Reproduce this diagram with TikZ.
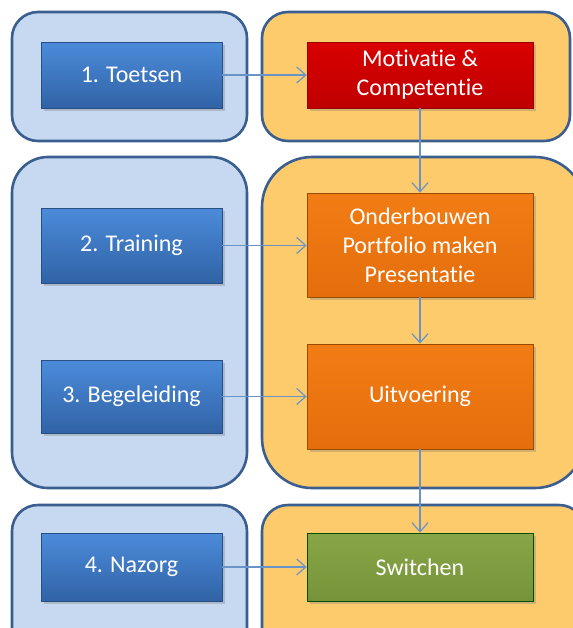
\documentclass[tikz,border=0pt]{standalone}
\usepackage{fontspec}
\setmainfont{Carlito}[Ligatures=NoCommon]
\usetikzlibrary{arrows.meta,shadows}
\definecolor{Rand}{HTML}{3A5E8F}
\definecolor{LichtBlauw}{HTML}{C6D9F0}
\definecolor{LichtOranje}{HTML}{FDCB6B}
\definecolor{Lijn}{HTML}{6A93C8}
\definecolor{BlauwBoven}{HTML}{4C8BDA}
\definecolor{BlauwOnder}{HTML}{3063A6}
\tikzset{
  panelL/.style={draw=Rand, fill=LichtBlauw, line width=1.3pt},
  panelR/.style={draw=Rand, fill=LichtOranje, line width=1.3pt},
  blok/.style={rectangle, text=white, align=center,
    font=\fontsize{12}{14.5}\selectfont, line width=0.4pt,
    drop shadow={opacity=0.35, shadow xshift=1.5pt, shadow yshift=-1.5pt}},
  stap/.style={blok, draw=BlauwOnder!80!black, top color=BlauwBoven, bottom color=BlauwOnder,
    minimum width=90.5pt},
  fase/.style={blok, minimum width=113pt},
  pijl/.style={draw=Lijn, line width=0.6pt, -{Straight Barb[length=4.5pt,width=8pt]}},
}
\begin{document}
\begin{tikzpicture}[x=0.5pt,y=-0.5pt]
\useasboundingbox (0,0) rectangle (573,628);
\clip (0,0) rectangle (573,628);

\draw[panelL, rounded corners=13pt] (12,12) rectangle (247,141);
\draw[panelR, rounded corners=13pt] (262,12) rectangle (570,141);
\draw[panelL, rounded corners=18pt] (12,157) rectangle (247,488);
\draw[panelR, rounded corners=25pt] (262,157) rectangle (585,488);
\draw[panelL, rounded corners=13pt] (12,505) rectangle (247,660);
\draw[panelR, rounded corners=13pt] (262,505) rectangle (585,660);

\node[stap, minimum height=33pt] (T1) at (131.5,75) {1. Toetsen};
\node[stap, minimum height=37.5pt] (T2) at (131.5,245.5) {2. Training};
\node[stap, minimum height=36.5pt] (T3) at (131.5,396.5) {3. Begeleiding};
\node[stap, minimum height=34pt] (T4) at (131.5,567) {4. Nazorg};

\node[fase, minimum height=33pt, draw=red!60!black, top color=red!85!black, bottom color=red!75!black] (M) at (420,75) {Motivatie \&\\Competentie};
\node[fase, minimum height=52pt, draw=orange!60!black, top color={rgb,255:red,242;green,124;blue,20}, bottom color={rgb,255:red,228;green,110;blue,12}] (O) at (420,245) {Onderbouwen\\Portfolio maken\\Presentatie};
\node[fase, minimum height=52.5pt, draw=orange!60!black, top color={rgb,255:red,242;green,124;blue,20}, bottom color={rgb,255:red,228;green,110;blue,12}] (U) at (420,396.5) {Uitvoering};
\node[fase, minimum height=34pt, draw=green!30!black, top color={rgb,255:red,136;green,166;blue,70}, bottom color={rgb,255:red,118;green,147;blue,58}] (S) at (420,567) {Switchen};

\draw[pijl] (T1) -- (M);
\draw[pijl] (T2.east) -- (T2.east -| O.west);
\draw[pijl] (T3) -- (U);
\draw[pijl] (T4) -- (S);
\draw[pijl] (M) -- (O);
\draw[pijl] (O) -- (U);
\draw[pijl] (U) -- (S);
\end{tikzpicture}
\end{document}
